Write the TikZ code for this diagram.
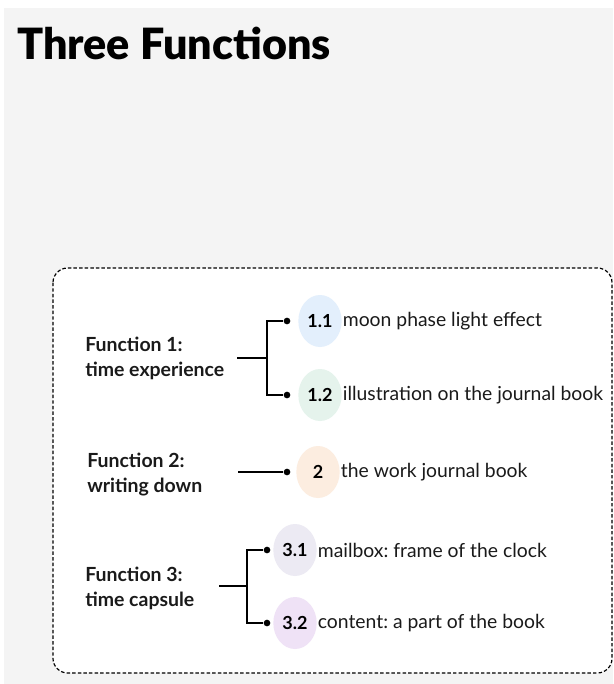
\documentclass[tikz,border=0pt]{standalone}
\usepackage{fontspec}
\setmainfont{Lato}
\newfontfamily\heavyfont{Lato Black}
\usetikzlibrary{positioning,shapes.geometric}
\frenchspacing

\definecolor{bggrey}{HTML}{F4F4F4}
\definecolor{blob11}{HTML}{E3EFFC}
\definecolor{blob12}{HTML}{E5F3EC}
\definecolor{blob2}{HTML}{FCEDE0}
\definecolor{blob31}{HTML}{ECEAF3}
\definecolor{blob32}{HTML}{EFE2F6}
\definecolor{inkdark}{HTML}{1A1A1A}

\begin{document}
\begin{tikzpicture}[x=0.75pt, y=-0.75pt,
    frame/.style={draw=black, fill=white, line width=0.9pt, dash pattern=on 2.6pt off 1.6pt, rounded corners=11pt},
    funcname/.style={anchor=west, align=left, inner sep=0pt, text=inkdark,
        font=\bfseries\fontsize{14.6}{18.75}\selectfont},
    numblob/.style={ellipse, minimum width=32.5pt, minimum height=39pt, inner sep=0pt,
        font=\bfseries\fontsize{13.5}{15}\selectfont},
    itemtext/.style={inner sep=0.5pt, text=inkdark, font=\fontsize{14.5}{16}\selectfont},
    dot/.style={circle, fill=black, inner sep=0pt, minimum size=5pt},
    branch/.style={line width=1.1pt},
]
    \fill[white] (0,0) rectangle (613,684);
    \fill[bggrey] (4,8) rectangle (613,684);
    \useasboundingbox (0,0) rectangle (613,684);

    \node[anchor=base west, inner sep=0pt, font=\heavyfont\fontsize{32.3}{40}\selectfont] (title) at (17,60) {Three Functions};

    \draw[frame] (53,268) rectangle (612,673);

    \node[funcname] (f1) at (85,358) {Function 1:\\time experience};
    \node[funcname] (f2) at (87,475) {Function 2:\\writing down};
    \node[funcname] (f3) at (85,588) {Function 3:\\time capsule};

    \foreach \id/\x/\y/\dx/\num/\txt in {
        11/320/321/287/1.1/moon phase light effect,
        12/320/395/287/1.2/illustration on the journal book,
        2/318/472/287/2/the work journal book,
        31/295/550/267/3.1/mailbox: frame of the clock,
        32/295/623/267/3.2/content: a part of the book}
    {
        \node[numblob, fill=blob\id] (n\id) at (\x,\y) {\num};
        \node[itemtext, right=0pt of n\id] (t\id) {\txt};
        \node[dot] (d\id) at (\dx,\y) {};
    }

    \coordinate (s1) at (237,358);
    \coordinate (b1) at (267,358);
    \coordinate (s2) at (238,472);
    \coordinate (s3) at (219,586);
    \coordinate (b3) at (247,586);

    \draw[branch] (s1) -- (b1);
    \draw[branch] (b1) |- (d11);
    \draw[branch] (b1) |- (d12);
    \draw[branch] (s2) -- (d2);
    \draw[branch] (s3) -- (b3);
    \draw[branch] (b3) |- (d31);
    \draw[branch] (b3) |- (d32);
\end{tikzpicture}
\end{document}
